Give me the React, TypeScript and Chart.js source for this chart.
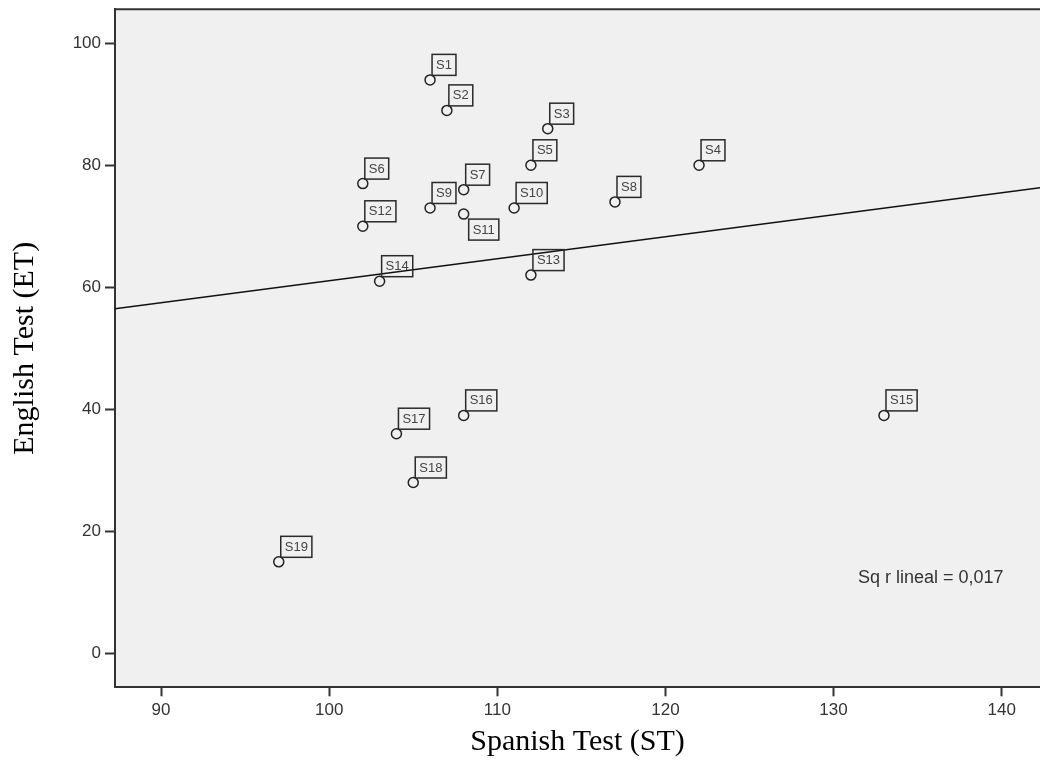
import React, { useEffect, useRef } from 'react';
import { Chart, registerables } from 'chart.js';

Chart.register(...registerables);

// ---- Data ----
const studentLabels = ['S1', 'S2', 'S3', 'S4', 'S5', 'S6', 'S7', 'S8', 'S9', 'S10', 'S11', 'S12', 'S13', 'S14', 'S15', 'S16', 'S17', 'S18', 'S19'];
const spanishScores = [106, 107, 113, 122, 112, 102, 108, 117, 106, 111, 108, 102, 112, 103, 133, 108, 104, 105, 97];
const englishScores = [94, 89, 86, 80, 80, 77, 76, 74, 73, 73, 72, 70, 62, 61, 39, 39, 36, 28, 15];
const xTickValues = [90, 100, 110, 120, 130, 140];
const yTickValues = [0, 20, 40, 60, 80, 100];
const xRange = [87.26, 142.28];
const yRange = [-5.57, 105.57];
const labelsBelow = ['S11'];

const xTitle = 'Spanish Test (ST)';
const yTitle = 'English Test (ET)';
const rSquaredPrefix = 'Sq r lineal = ';

// least-squares fit from the data
function linearFit(xs: number[], ys: number[]) {
  const n = xs.length;
  const mx = xs.reduce((a, b) => a + b, 0) / n;
  const my = ys.reduce((a, b) => a + b, 0) / n;
  let sxy = 0, sxx = 0, syy = 0;
  for (let i = 0; i < n; i++) {
    sxy += (xs[i] - mx) * (ys[i] - my);
    sxx += (xs[i] - mx) ** 2;
    syy += (ys[i] - my) ** 2;
  }
  const slope = sxy / sxx;
  return { slope, intercept: my - slope * mx, r2: (sxy * sxy) / (sxx * syy) };
}

const SANS = '"Liberation Sans", Arial, sans-serif';
const SERIF = '"Liberation Serif", "Times New Roman", serif';
const AXIS = '#333333';

export default function App() {
  const canvasRef = useRef<HTMLCanvasElement | null>(null);

  useEffect(() => {
    if (!canvasRef.current) return;
    const fit = linearFit(spanishScores, englishScores);
    const rText = rSquaredPrefix + fit.r2.toFixed(3).replace('.', ',');

    const decor = {
      id: 'decor',
      beforeDraw(chart: any) {
        const { ctx, chartArea: a } = chart;
        ctx.save();
        ctx.fillStyle = '#f0f0f0';
        ctx.fillRect(a.left, a.top, a.right - a.left, a.bottom - a.top);
        ctx.restore();
      },
      afterDraw(chart: any) {
        const { ctx, chartArea: a } = chart;
        ctx.save();
        // top frame line
        ctx.strokeStyle = AXIS;
        ctx.lineWidth = 2;
        ctx.beginPath();
        ctx.moveTo(a.left - 1, a.top);
        ctx.lineTo(a.right, a.top);
        ctx.stroke();

        // point labels
        const meta = chart.getDatasetMeta(1);
        ctx.font = '13px ' + SANS;
        ctx.textAlign = 'center';
        ctx.textBaseline = 'middle';
        ctx.lineWidth = 1.5;
        meta.data.forEach((pt: any, i: number) => {
          const label = studentLabels[i];
          const w = ctx.measureText(label).width + 8;
          const h = 21;
          let bx = pt.x + 2;
          let by = pt.y - 4.5 - h;
          if (labelsBelow.includes(label)) {
            bx = pt.x + 5;
            by = pt.y + 5;
          }
          ctx.strokeStyle = '#2a2a2a';
          ctx.strokeRect(bx, by, w, h);
          ctx.fillStyle = '#444';
          ctx.fillText(label, bx + w / 2, by + h / 2 + 0.5);
        });

        // r squared annotation
        ctx.font = '18px ' + SANS;
        ctx.fillStyle = '#333';
        ctx.textAlign = 'left';
        ctx.textBaseline = 'middle';
        ctx.fillText(rText, a.right - 182, a.bottom - 109);
        ctx.restore();
      },
    };

    const chart = new Chart(canvasRef.current, {
      type: 'scatter',
      data: {
        datasets: [
          {
            type: 'line',
            data: [
              { x: xRange[0], y: fit.intercept + fit.slope * xRange[0] },
              { x: xRange[1], y: fit.intercept + fit.slope * xRange[1] },
            ],
            borderColor: '#111',
            borderWidth: 1.6,
            pointRadius: 0,
            fill: false,
          } as any,
          {
            data: spanishScores.map((x, i) => ({ x, y: englishScores[i] })),
            pointStyle: 'circle',
            pointRadius: 5,
            pointBorderWidth: 1.5,
            borderColor: '#222',
            backgroundColor: 'rgba(0,0,0,0)',
          },
        ],
      },
      options: {
        responsive: false,
        maintainAspectRatio: false,
        animation: false,
        devicePixelRatio: 1,
        layout: { autoPadding: false, padding: { top: 9.3, right: 0, bottom: 0, left: 0 } },
        plugins: {
          legend: { display: false },
          tooltip: { enabled: false },
        },
        scales: {
          x: {
            type: 'linear',
            min: xRange[0],
            max: xRange[1],
            afterFit: (s: any) => {
              s.height = 81.7;
              s.paddingLeft = 0;
              s.paddingRight = 0;
            },
            afterBuildTicks: (s: any) => { s.ticks = xTickValues.map((v) => ({ value: v })); },
            ticks: {
              font: { family: SANS, size: 17 },
              color: '#333',
              padding: 4,
              maxRotation: 0,
              autoSkip: false,
              callback: (v: any) => String(v),
            },
            grid: {
              display: true,
              drawOnChartArea: false,
              drawTicks: true,
              tickLength: 9,
              tickColor: AXIS,
              tickWidth: 2,
            },
            border: { display: true, color: AXIS, width: 2 },
            title: {
              display: true,
              text: xTitle,
              font: { family: SERIF, size: 30 },
              color: '#000',
              padding: { top: 0, bottom: 9 },
            },
          },
          y: {
            type: 'linear',
            min: yRange[0],
            max: yRange[1],
            afterFit: (s: any) => {
              s.width = 115;
              s.paddingTop = 0;
              s.paddingBottom = 0;
            },
            afterBuildTicks: (s: any) => { s.ticks = yTickValues.map((v) => ({ value: v })); },
            ticks: {
              font: { family: SANS, size: 17 },
              color: '#333',
              padding: 4,
              autoSkip: false,
              callback: (v: any) => String(v),
            },
            grid: {
              display: true,
              drawOnChartArea: false,
              drawTicks: true,
              tickLength: 10,
              tickColor: AXIS,
              tickWidth: 2,
            },
            border: { display: true, color: AXIS, width: 2 },
            title: {
              display: true,
              text: yTitle,
              font: { family: SERIF, size: 30 },
              color: '#000',
              padding: { top: 7, bottom: 0 },
            },
          },
        },
      },
      plugins: [decor],
    });
    return () => chart.destroy();
  }, []);

  return (
    <div style={{ position: 'absolute', left: 0, top: 0, width: 1040, height: 769, background: '#fff' }}>
      <canvas ref={canvasRef} width={1040} height={769} style={{ display: 'block' }} />
    </div>
  );
}
